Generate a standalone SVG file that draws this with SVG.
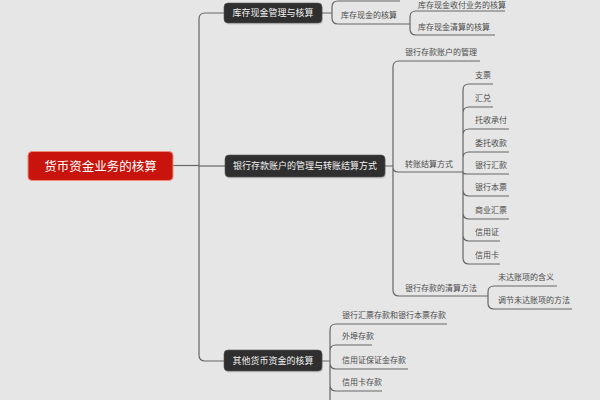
<svg xmlns="http://www.w3.org/2000/svg" width="600" height="400" viewBox="0 0 600 400">
<style>
.bg{fill:#e6e6e6}
.ln{fill:none;stroke:#666;stroke-width:1.2}
.dark{fill:#2f2f2f;stroke:#555;stroke-width:0.6}
.shadow{fill:#000;opacity:0.12}
.nt{font-family:"Noto Sans CJK SC","Noto Sans",sans-serif;font-size:9px;fill:#f2f2f2;text-anchor:middle}
.st{font-family:"Noto Sans CJK SC","Noto Sans",sans-serif;font-size:8px;fill:#4a4a4a}
.rt{font-family:"Noto Sans CJK SC","Noto Sans",sans-serif;font-size:12.5px;fill:#ffffff;text-anchor:middle}
</style>
<rect class="bg" x="0" y="0" width="600" height="400"/>
<g id="connectors">
  <path class="ln" d="M173,165.5 H199"/>
  <path class="ln" d="M224,13 H205 Q199,13 199,19 V355 Q199,361 205,361 H224"/>
  <path class="ln" d="M199,166 H225"/>
  <path class="ln" d="M322,13 H332 M332,13 V7 Q332,1 338,1 H400 M332,13 V18 Q332,24 338,24 H408"/>
  <path class="ln" d="M408,24 H410 M410,24 V17 Q410,11 416,11 H505 M410,24 V29 Q410,35 416,35 H495"/>
  <path class="ln" d="M385,166 H393 M393,166 V67 Q393,61 399,61 H480 M393,166 V167 Q393,172 398,172 H462 M393,166 V290 Q393,296 399,296 H487"/>
  <path class="ln" d="M462,172 H463 M463,172 V90 Q463,84 469,84 H493 M463,172 V113 Q463,107 469,107 H493 M463,172 V135 Q463,129 469,129 H509 M463,172 V158 Q463,152 469,152 H509 M463,172 Q463,174 467,174 H509 M463,172 V190 Q463,196 469,196 H509 M463,172 V213 Q463,219 469,219 H509 M463,172 V235 Q463,241 469,241 H500 M463,172 V258 Q463,264 469,264 H500"/>
  <path class="ln" d="M487,296 H488 M488,296 V292 Q488,286 494,286 H557 M488,296 V303 Q488,309 494,309 H572"/>
  <path class="ln" d="M322,361 H330 M330,361 V330 Q330,324 336,324 H447 M330,361 V351 Q330,345 336,345 H372 M330,361 V363 Q330,369 336,369 H408 M330,361 V385 Q330,391 336,391 H382 M330,361 V400"/>
</g>
<g id="root">
  <rect x="28" y="151.5" width="145" height="29" rx="4" fill="#c8140c" stroke="#f08a78" stroke-width="1"/>
  <text class="rt" x="100.5" y="170.5">货币资金业务的核算</text>
</g>
<g id="n1">
  <rect class="shadow" x="225" y="4.5" width="98" height="20" rx="4"/>
  <rect class="dark" x="224" y="3" width="98" height="20" rx="4"/>
  <text class="nt" x="273" y="16.2">库存现金管理与核算</text>
</g>
<g id="n1a"><text class="st" x="341" y="18">库存现金的核算</text></g>
<g id="n1a1"><text class="st" x="418" y="8">库存现金收付业务的核算</text></g>
<g id="n1a2"><text class="st" x="418" y="30">库存现金清算的核算</text></g>
<g id="n2">
  <rect class="shadow" x="226" y="156.5" width="160" height="22" rx="4"/>
  <rect class="dark" x="225" y="155" width="160" height="22" rx="4"/>
  <text class="nt" x="305" y="169.2">银行存款账户的管理与转账结算方式</text>
</g>
<g id="n2a"><text class="st" x="405" y="55">银行存款账户的管理</text></g>
<g id="n2b"><text class="st" x="405" y="167">转账结算方式</text></g>
<g id="n2b1"><text class="st" x="475" y="78">支票</text></g>
<g id="n2b2"><text class="st" x="475" y="101">汇兑</text></g>
<g id="n2b3"><text class="st" x="475" y="123">托收承付</text></g>
<g id="n2b4"><text class="st" x="475" y="146">委托收款</text></g>
<g id="n2b5"><text class="st" x="475" y="168">银行汇款</text></g>
<g id="n2b6"><text class="st" x="475" y="190">银行本票</text></g>
<g id="n2b7"><text class="st" x="475" y="213">商业汇票</text></g>
<g id="n2b8"><text class="st" x="475" y="235">信用证</text></g>
<g id="n2b9"><text class="st" x="475" y="258">信用卡</text></g>
<g id="n2c"><text class="st" x="405" y="291">银行存款的清算方法</text></g>
<g id="n2c1"><text class="st" x="498" y="280">未达账项的含义</text></g>
<g id="n2c2"><text class="st" x="498" y="303">调节未达账项的方法</text></g>
<g id="n3">
  <rect class="shadow" x="225" y="351.5" width="98" height="21" rx="4"/>
  <rect class="dark" x="224" y="350" width="98" height="21" rx="4"/>
  <text class="nt" x="273" y="363.8">其他货币资金的核算</text>
</g>
<g id="n3a"><text class="st" x="342" y="318">银行汇票存款和银行本票存款</text></g>
<g id="n3b"><text class="st" x="342" y="339">外埠存款</text></g>
<g id="n3c"><text class="st" x="342" y="363">信用证保证金存款</text></g>
<g id="n3d"><text class="st" x="342" y="385">信用卡存款</text></g>
</svg>
